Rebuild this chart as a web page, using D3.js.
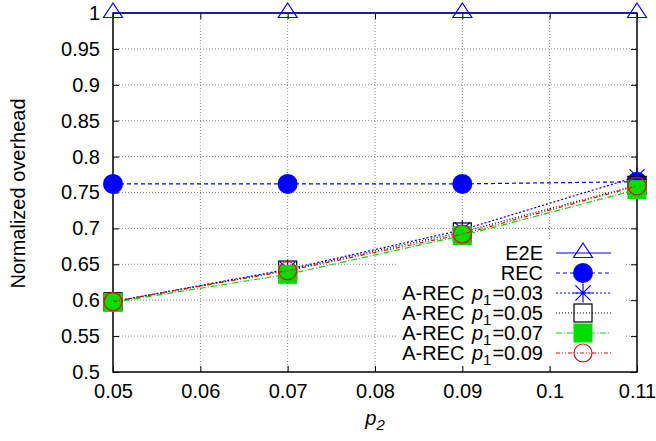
<!DOCTYPE html>
<html>
<head>
<meta charset="utf-8">
<script src="https://cdn.jsdelivr.net/npm/d3@7"></script>
<style>
  body { margin: 0; background: #fff; }
  svg { font-family: "Liberation Sans", Arial, sans-serif; }
</style>
</head>
<body>
<svg id="chart" width="656" height="441"></svg>
<script>
// data
var p2 = [0.05, 0.07, 0.09, 0.11];
var e2e = [1, 1, 1, 1];
var rec = [0.762, 0.762, 0.762, 0.765];
var arec003 = [0.598, 0.643, 0.698, 0.772];
var arec005 = [0.598, 0.642, 0.695, 0.760];
var arec007 = [0.597, 0.636, 0.690, 0.754];
var arec009 = [0.598, 0.641, 0.692, 0.759];
var xTicks = [0.05, 0.06, 0.07, 0.08, 0.09, 0.1, 0.11];
var yTicks = [0.5, 0.55, 0.6, 0.65, 0.7, 0.75, 0.8, 0.85, 0.9, 0.95, 1];

var series = [
  {name: "E2E", p1: null, vals: e2e, color: "#0000ff", dash: null, marker: "triangle"},
  {name: "REC", p1: null, vals: rec, color: "#0000ff", dash: "4,3", marker: "dot"},
  {name: "A-REC ", p1: "0.03", vals: arec003, color: "#0000ff", dash: "2,2", marker: "star"},
  {name: "A-REC ", p1: "0.05", vals: arec005, color: "#000000", dash: "1,2", marker: "box"},
  {name: "A-REC ", p1: "0.07", vals: arec007, color: "#00dd00", dash: "6,2,1,2", marker: "fbox"},
  {name: "A-REC ", p1: "0.09", vals: arec009, color: "#ff0000", dash: "4,2,1,2,1,2", marker: "circle"}
];

var pL = 113, pR = 637, pT = 13, pB = 372;
var fs = 20;
var svg = d3.select("#chart");

var x = d3.scaleLinear().domain([0.05, 0.11]).range([pL, pR]);
var y = d3.scaleLinear().domain([0.5, 1]).range([pB, pT]);

// grid
var grid = svg.append("g");
grid.selectAll(".gx").data(xTicks.slice(1, -1)).enter().append("line")
  .attr("x1", d => x(d)).attr("x2", d => x(d)).attr("y1", pT).attr("y2", pB)
  .attr("stroke", "#888").attr("stroke-width", 1).attr("stroke-dasharray", "1,2");
grid.selectAll(".gy").data(yTicks.slice(1, -1)).enter().append("line")
  .attr("x1", pL).attr("x2", pR).attr("y1", d => y(d)).attr("y2", d => y(d))
  .attr("stroke", "#888").attr("stroke-width", 1).attr("stroke-dasharray", "1,2");

// legend background hides the grid
svg.append("rect").attr("x", 398).attr("y", 241).attr("width", 226).attr("height", 124).attr("fill", "#fff");

function styleText(g) {
  g.selectAll("text").attr("font-size", fs).attr("fill", "#000")
    .attr("font-family", "Liberation Sans, Arial, sans-serif");
}

// axes
svg.append("g").attr("transform", "translate(0," + pB + ")")
  .call(d3.axisBottom(x).tickValues(xTicks).tickSize(-6).tickPadding(12).tickFormat(d3.format("")))
  .call(g => g.select(".domain").remove())
  .call(styleText);
svg.append("g").attr("transform", "translate(0," + pT + ")")
  .call(d3.axisTop(x).tickValues(xTicks).tickSize(-6).tickFormat(""))
  .call(g => g.select(".domain").remove());
svg.append("g").attr("transform", "translate(" + pL + ",0)")
  .call(d3.axisLeft(y).tickValues(yTicks).tickSize(-6).tickPadding(13).tickFormat(d3.format("")))
  .call(g => g.select(".domain").remove())
  .call(styleText);
svg.append("g").attr("transform", "translate(" + pR + ",0)")
  .call(d3.axisRight(y).tickValues(yTicks).tickSize(-6).tickFormat(""))
  .call(g => g.select(".domain").remove());

svg.append("rect").attr("x", pL).attr("y", pT).attr("width", pR - pL).attr("height", pB - pT)
  .attr("fill", "none").attr("stroke", "#000").attr("stroke-width", 1.5);

// axis labels
svg.append("text").attr("transform", "translate(25," + ((pT + pB) / 2 + 1) + ") rotate(-90)")
  .attr("text-anchor", "middle").attr("font-size", fs).text("Normalized overhead");
var xl = svg.append("text").attr("x", 375).attr("y", 425).attr("text-anchor", "middle").attr("font-size", fs);
xl.append("tspan").attr("font-style", "italic").text("p");
xl.append("tspan").attr("font-style", "italic").attr("font-size", 15).attr("dy", 5).text("2");

function drawMarker(g, type, color, cx, cy) {
  if (type === "triangle") {
    g.append("path").attr("d", "M" + cx + "," + (cy - 10) + "L" + (cx + 9.5) + "," + (cy + 4.5) + "L" + (cx - 9.5) + "," + (cy + 4.5) + "Z")
      .attr("fill", "none").attr("stroke", color).attr("stroke-width", 1.2);
  } else if (type === "dot") {
    g.append("circle").attr("cx", cx).attr("cy", cy).attr("r", 10).attr("fill", color);
  } else if (type === "star") {
    var s = 9.5;
    g.append("path").attr("d", "M" + (cx - s) + "," + cy + "H" + (cx + s) + "M" + cx + "," + (cy - s) + "V" + (cy + s) +
      "M" + (cx - s * 0.8) + "," + (cy - s * 0.8) + "L" + (cx + s * 0.8) + "," + (cy + s * 0.8) +
      "M" + (cx - s * 0.8) + "," + (cy + s * 0.8) + "L" + (cx + s * 0.8) + "," + (cy - s * 0.8))
      .attr("stroke", color).attr("stroke-width", 1.2).attr("fill", "none");
  } else if (type === "box") {
    g.append("rect").attr("x", cx - 9).attr("y", cy - 9).attr("width", 18).attr("height", 18)
      .attr("fill", "none").attr("stroke", color).attr("stroke-width", 1.2);
  } else if (type === "fbox") {
    g.append("rect").attr("x", cx - 9.5).attr("y", cy - 9.5).attr("width", 19).attr("height", 19).attr("fill", color);
  } else if (type === "circle") {
    g.append("circle").attr("cx", cx).attr("cy", cy).attr("r", 9).attr("fill", "none").attr("stroke", color).attr("stroke-width", 1.2);
  }
}

var line = d3.line().x(d => x(d[0])).y(d => y(d[1]));

series.forEach(function (s, k) {
  var g = svg.append("g");
  var pts = p2.map((v, i) => [v, s.vals[i]]);
  g.append("path").attr("d", line(pts)).attr("fill", "none").attr("stroke", s.color)
    .attr("stroke-width", 1.2).attr("stroke-dasharray", s.dash);
  pts.forEach(p => drawMarker(g, s.marker, s.color, x(p[0]), y(p[1])));

  // legend entry
  var ly = 253 + k * 20;
  var t = svg.append("text").attr("x", 543).attr("y", ly + 7).attr("text-anchor", "end").attr("font-size", fs);
  t.append("tspan").text(s.name);
  if (s.p1) {
    t.append("tspan").attr("font-style", "italic").attr("dx", 2).text("p");
    t.append("tspan").attr("font-size", 15).attr("dy", 5).text("1");
    t.append("tspan").attr("dy", -5).attr("dx", 1).text("=" + s.p1);
  }
  svg.append("line").attr("x1", 556).attr("x2", 611).attr("y1", ly).attr("y2", ly)
    .attr("stroke", s.color).attr("stroke-width", 1.2).attr("stroke-dasharray", s.dash);
  drawMarker(svg.append("g"), s.marker, s.color, 583, ly);
});
</script>
</body>
</html>
